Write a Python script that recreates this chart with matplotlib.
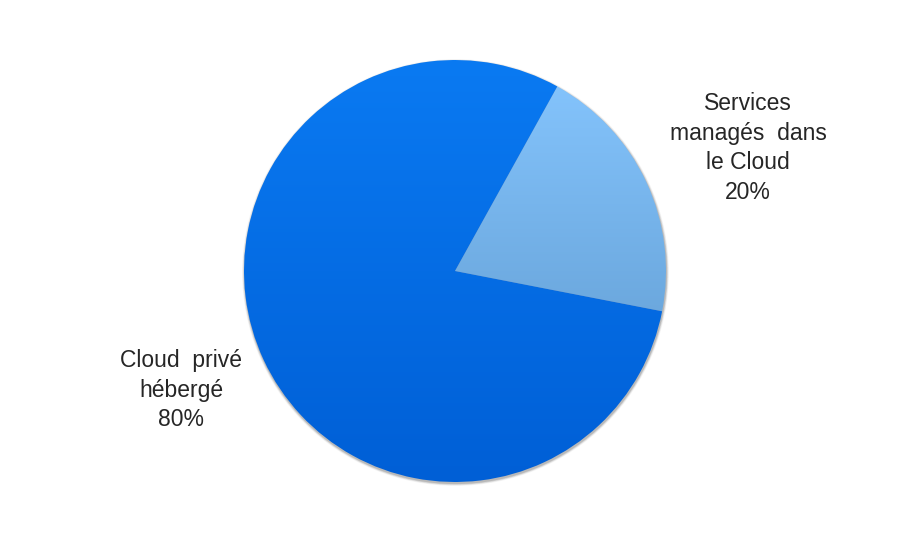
import matplotlib.pyplot as plt
import numpy as np
from matplotlib.patches import Circle

plt.rcParams['font.family'] = ['Liberation Sans', 'DejaVu Sans']

# parts of the pie (percent)
labels = ['Services\nmanagés  dans\nle Cloud', 'Cloud  privé\nhébergé']
shares = [20, 80]
# gradient colours (top, bottom) for each slice
grad_top = ['#86c6ff', '#0a7af2']
grad_bot = ['#5a94c8', '#005fd6']

W, H = 909, 545
cx, cy, r = 455, 545 - 271, 211

fig = plt.figure(figsize=(W / 100, H / 100), dpi=100)
ax = fig.add_axes([0, 0, 1, 1])

# soft shadow under the pie
for k, a in zip(range(4, 0, -1), [0.04, 0.06, 0.08, 0.12]):
    ax.add_patch(Circle((cx + 0.5, cy - 1.5), r + k * 0.6, color='black', alpha=a,
                        lw=0, zorder=0))

wedges, _ = ax.pie(shares, startangle=-11, counterclock=True, radius=r,
                   center=(cx, cy), frame=True,
                   wedgeprops=dict(linewidth=0))
ax.set_xlim(0, W)
ax.set_ylim(0, H)
ax.set_aspect('equal')
ax.axis('off')

# paint a vertical gradient inside each wedge
t = np.linspace(0, 1, 256)[:, None]
for w, c0, c1 in zip(wedges, grad_top, grad_bot):
    a = np.array(plt.matplotlib.colors.to_rgb(c0))
    b = np.array(plt.matplotlib.colors.to_rgb(c1))
    img = a[None, None, :] * (1 - t[..., None]) + b[None, None, :] * t[..., None]
    img = np.repeat(img, 2, axis=1)
    w.set_facecolor('none')
    im = ax.imshow(img, extent=(cx - r, cx + r, cy - r, cy + r), origin='upper',
                   aspect='auto', zorder=1, interpolation='bilinear')
    im.set_clip_path(w)

# labels
txt = dict(fontsize=16.5, color='#262626', ha='center', va='center', linespacing=1.36)
ax.text(748, H - 148, labels[0] + '\n{}%'.format(shares[0]), **txt)
ax.text(181, H - 390, labels[1] + '\n{}%'.format(shares[1]), **txt)

fig.savefig('out.png', dpi=100)
